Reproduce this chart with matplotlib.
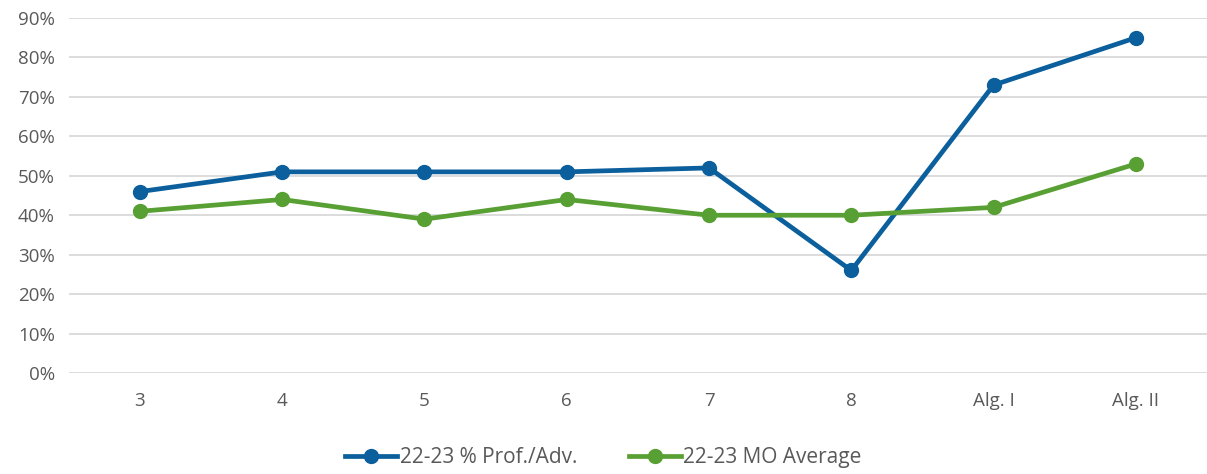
import matplotlib
matplotlib.use("Agg")
import matplotlib.pyplot as plt
from matplotlib.ticker import PercentFormatter

plt.rcParams['font.family'] = ['Open Sans', 'DejaVu Sans']

categories = ['3', '4', '5', '6', '7', '8', 'Alg. I', 'Alg. II']
prof_adv = [46, 51, 51, 51, 52, 26, 73, 85]
mo_average = [41, 44, 39, 44, 40, 40, 42, 53]

blue = '#0A5F9C'
green = '#58A033'
text_gray = '#595959'

fig = plt.figure(figsize=(12.07, 4.74), dpi=100)
ax = fig.add_axes([0.057, 0.213, 0.943, 0.749])

x = range(len(categories))
ax.plot(x, prof_adv, color=blue, lw=3.4, marker='o', ms=10, label='22-23 % Prof./Adv.', zorder=3)
ax.plot(x, mo_average, color=green, lw=3.4, marker='o', ms=10, label='22-23 MO Average', zorder=3)

ax.set_xlim(-0.5, len(categories) - 0.5)
ax.set_ylim(0, 90)
ax.set_yticks(range(0, 91, 10))
ax.yaxis.set_major_formatter(PercentFormatter(decimals=0))
ax.set_xticks(list(x))
ax.set_xticklabels(categories)
ax.grid(axis='y', color='#D9D9D9', lw=1.3)
ax.set_axisbelow(True)
for s in ax.spines.values():
    s.set_visible(False)
ax.tick_params(length=0, labelsize=13.5, labelcolor=text_gray)
ax.tick_params(axis='x', pad=14)
ax.tick_params(axis='y', pad=10)

leg = fig.legend(loc='center', bbox_to_anchor=(0.5, 0.035), ncol=2, frameon=False,
                 fontsize=15, handlelength=2.5, columnspacing=2.5, handletextpad=0.1)
for t in leg.get_texts():
    t.set_color(text_gray)

fig.savefig('out.png', dpi=100)
